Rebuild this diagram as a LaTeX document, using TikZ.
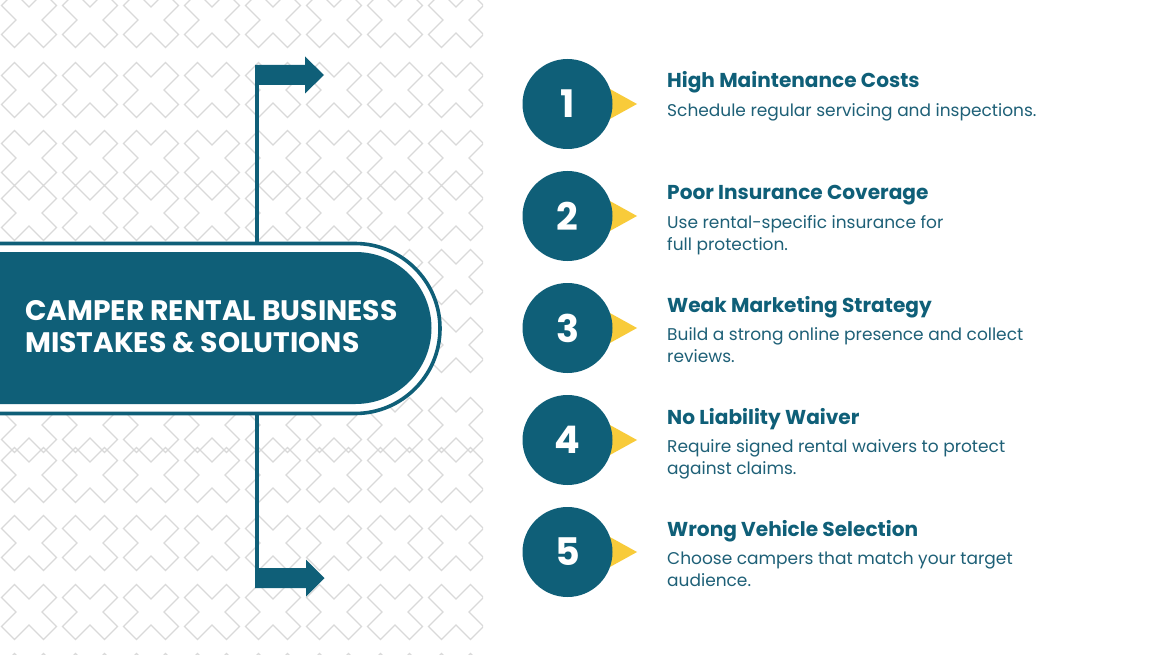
\documentclass[tikz,border=0pt]{standalone}
\usepackage{fontspec}
\setmainfont{Poppins}
\definecolor{brandteal}{HTML}{0F5F78}
\definecolor{bodyteal}{HTML}{1E6077}
\definecolor{brandyellow}{HTML}{F8CB3A}
\definecolor{crossgray}{HTML}{D9D9D9}
\tikzset{
  crossline/.style={draw=crossgray, line width=1.1pt, line join=miter},
  bandline/.style={draw=brandteal, line width=3.6pt},
  connector/.style={draw=brandteal, line width=3.8pt},
  blockarrow/.style={fill=brandteal},
  numcircle/.style={circle, fill=brandteal, minimum size=90pt, inner sep=0pt, text=white, font=\bfseries\fontsize{38}{38}\selectfont},
  titletext/.style={anchor=base west, inner sep=0pt, text=white, font=\bfseries\fontsize{28.2}{32}\selectfont},
  headtext/.style={anchor=base west, inner sep=0pt, text=brandteal, font=\bfseries\fontsize{20.1}{24}\selectfont},
  bodytext/.style={anchor=base west, inner sep=0pt, text=bodyteal, align=left, font=\fontsize{17}{22}\selectfont},
}
\begin{document}
\begin{tikzpicture}[x=1pt,y=-1pt]
\useasboundingbox (0,0) rectangle (1164,655);
\fill[white] (0,0) rectangle (1164,655);
% background pattern of crosses
\begin{scope}
\clip (0,0) rectangle (483,655);
\foreach \cy in {20,90,158,213,277,345,425,475,543,612,681}{
  \foreach \cx in {29,90,151,212,273,334,395,456}{
    \draw[crossline] (\cx,\cy) +(27.5,14.5) -- +(14.5,27.5) -- +(0,13) -- +(-14.5,27.5) -- +(-27.5,14.5) -- +(-13,0)
      -- +(-27.5,-14.5) -- +(-14.5,-27.5) -- +(0,-13) -- +(14.5,-27.5) -- +(27.5,-14.5) -- +(13,0) -- cycle;
  }
}
\end{scope}
% central band
\fill[white] (-5,243.5) -- (355,243.5) arc[start angle=-90, end angle=90, radius=85] -- (-5,413.5) -- cycle;
\draw[bandline] (-5,243.5) -- (355,243.5) arc[start angle=-90, end angle=90, radius=85] -- (-5,413.5);
\fill[brandteal] (-5,252) -- (355.5,252) arc[start angle=-90, end angle=90, radius=76] -- (-5,404) -- cycle;
\node[titletext] (title1) at (25,320) {CAMPER RENTAL BUSINESS};
\node[titletext] (title2) at (25,352) {MISTAKES \& SOLUTIONS};
% connectors
\coordinate (bandtop) at (257,243.5);
\coordinate (bandbot) at (257,413.5);
\coordinate (topbar) at (257,65);
\coordinate (botbar) at (257,588);
\draw[connector] (bandtop) -- (topbar);
\draw[connector] (bandbot) -- (botbar);
\fill[blockarrow] (255,65) -- (305,65) -- (305,56.5) -- (324,75) -- (305,93.5) -- (305,85) -- (255,85) -- cycle;
\fill[blockarrow] (255,568) -- (306,568) -- (306,559.5) -- (324.5,578) -- (306,596.5) -- (306,588) -- (255,588) -- cycle;
% yellow pointers
\foreach \cy in {104,216,328,440,552}{
  \fill[brandyellow] (590,\cy-26) -- (637,\cy) -- (590,\cy+26) -- cycle;
}
% numbered circles
\node[numcircle] (c1) at (567.5,104) {1};
\node[numcircle] (c2) at (567.5,216) {2};
\node[numcircle] (c3) at (567.5,328) {3};
\node[numcircle] (c4) at (567.5,440) {4};
\node[numcircle] (c5) at (567.5,552) {5};
% headings and texts (base anchor = baseline of the last line)
\node[headtext] (h1) at (667,88) {High Maintenance Costs};
\node[bodytext] (t1) at (667,116.5) {Schedule regular servicing and inspections.};
\node[headtext] (h2) at (667,200) {Poor Insurance Coverage};
\node[bodytext] (t2) at (667,250.5) {Use rental-specific insurance for\\full protection.};
\node[headtext] (h3) at (667,312) {Weak Marketing Strategy};
\node[bodytext] (t3) at (667,362.5) {Build a strong online presence and collect\\reviews.};
\node[headtext] (h4) at (667,424) {No Liability Waiver};
\node[bodytext] (t4) at (667,474.5) {Require signed rental waivers to protect\\against claims.};
\node[headtext] (h5) at (667,536) {Wrong Vehicle Selection};
\node[bodytext] (t5) at (667,586.5) {Choose campers that match your target\\audience.};
\end{tikzpicture}
\end{document}
